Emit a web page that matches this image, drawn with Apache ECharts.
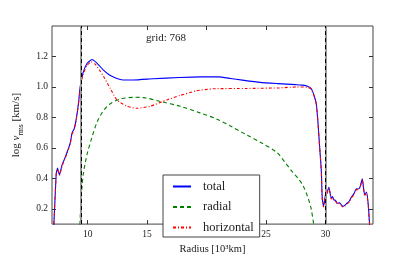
<!DOCTYPE html>
<html>
<head>
<meta charset="utf-8">
<script src="https://cdn.jsdelivr.net/npm/echarts@6/dist/echarts.min.js"></script>
<style>html,body{margin:0;padding:0;background:#fff;}#c{width:415px;height:260px;}</style>
</head>
<body>
<div id="c"></div>
<script>
// Radius [10^3 km] and log v_rms values
const radiusTotal = [7.13, 7.28, 7.36, 7.47, 7.55, 7.64, 7.84, 8.12, 8.4, 8.54, 8.68, 8.87, 9.04, 9.23, 9.37, 9.6, 9.94, 10.36, 10.8, 11.33, 11.8, 12.17, 12.6, 13.0, 13.85, 15.5, 17.7, 19.5, 21.0, 22.0, 23.0, 24.5, 26.0, 27.5, 28.1, 28.5, 28.8, 29.0, 29.23, 29.37, 29.5, 29.65, 29.73, 29.84, 29.92, 30.0, 30.1, 30.29, 30.4, 30.49, 30.6, 30.7, 30.85, 31.0, 31.2, 31.35, 31.5, 31.65, 31.8, 32.0, 32.2, 32.4, 32.6, 32.75, 32.9, 33.0, 33.1, 33.2, 33.3, 33.45, 33.6, 33.75];
const valuesTotal = [0.05, 0.31, 0.435, 0.467, 0.44, 0.425, 0.487, 0.54, 0.6, 0.634, 0.696, 0.727, 0.79, 0.894, 1.0, 1.09, 1.154, 1.18, 1.155, 1.11, 1.08, 1.065, 1.052, 1.046, 1.046, 1.054, 1.062, 1.066, 1.066, 1.056, 1.045, 1.03, 1.022, 1.015, 1.012, 1.005, 0.99, 0.955, 0.89, 0.77, 0.62, 0.456, 0.27, 0.217, 0.25, 0.29, 0.3, 0.342, 0.3, 0.27, 0.28, 0.26, 0.255, 0.237, 0.24, 0.225, 0.217, 0.225, 0.237, 0.25, 0.279, 0.3, 0.331, 0.33, 0.342, 0.37, 0.398, 0.34, 0.29, 0.31, 0.228, 0.05];

const radiusRadial = [9.33, 9.4, 9.45, 9.52, 9.62, 9.79, 9.99, 10.36, 10.8, 11.33, 12.0, 12.73, 13.85, 14.7, 16.1, 17.8, 19.44, 20.84, 22.1, 23.36, 24.6, 25.9, 26.6, 27.2, 27.7, 28.1, 28.5, 28.8, 29.1];
const valuesRadial = [0.05, 0.2, 0.27, 0.34, 0.42, 0.5, 0.57, 0.67, 0.77, 0.845, 0.895, 0.92, 0.932, 0.93, 0.905, 0.873, 0.83, 0.79, 0.74, 0.686, 0.634, 0.571, 0.505, 0.445, 0.4, 0.355, 0.28, 0.2, 0.05];

const radiusHorizontal = [7.13, 7.28, 7.36, 7.47, 7.55, 7.64, 7.84, 8.12, 8.4, 8.54, 8.68, 8.87, 9.04, 9.23, 9.37, 9.6, 9.94, 10.3, 10.63, 11.0, 11.33, 11.9, 12.45, 13.3, 14.13, 15.25, 16.65, 17.76, 19.16, 20.56, 23.36, 26.15, 27.55, 28.5, 28.8, 29.0, 29.23, 29.37, 29.5, 29.65, 29.73, 29.84, 29.92, 30.0, 30.1, 30.29, 30.4, 30.49, 30.6, 30.7, 30.85, 31.0, 31.2, 31.35, 31.5, 31.65, 31.8, 32.0, 32.2, 32.4, 32.6, 32.75, 32.9, 33.0, 33.1, 33.2, 33.3, 33.45, 33.6, 33.75];
const valuesHorizontal = [0.05, 0.31, 0.43, 0.46, 0.44, 0.42, 0.48, 0.535, 0.595, 0.63, 0.69, 0.72, 0.785, 0.89, 0.99, 1.08, 1.14, 1.165, 1.15, 1.11, 1.07, 0.99, 0.915, 0.873, 0.86, 0.873, 0.915, 0.944, 0.975, 0.988, 0.99, 0.994, 1.0, 0.998, 0.985, 0.95, 0.885, 0.765, 0.615, 0.45, 0.265, 0.212, 0.245, 0.285, 0.295, 0.337, 0.295, 0.265, 0.275, 0.255, 0.25, 0.232, 0.235, 0.22, 0.212, 0.22, 0.232, 0.245, 0.274, 0.295, 0.326, 0.325, 0.337, 0.365, 0.393, 0.335, 0.285, 0.305, 0.223, 0.05];

const boundaries = [9.45, 30.0];
const xTicks = [10, 15, 20, 25, 30];
const yTicks = [0.2, 0.4, 0.6, 0.8, 1.0, 1.2];
const gridLabel = 'grid: 768';

const zip = (xs, ys) => xs.map((x, i) => [x, ys[i]]);
const serif = 'Liberation Serif';
const chart = echarts.init(document.getElementById('c'), null, {renderer: 'canvas'});

const tickCommon = {show: true, inside: true, length: 4, lineStyle: {color: '#333', width: 1}};
const vline = (color, type, width) => ({
  silent: true, symbol: 'none', animation: false,
  label: {show: false},
  lineStyle: {color: color, type: type, width: width},
  data: boundaries.map(b => ({xAxis: b}))
});

chart.setOption({
  animation: false,
  grid: {left: 52, top: 26, right: 42, bottom: 27, show: true, borderColor: '#444', borderWidth: 1, backgroundColor: 'transparent'},
  xAxis: [
    {type: 'value', min: 7, max: 34, position: 'bottom',
     axisLine: {show: false}, splitLine: {show: false},
     axisTick: Object.assign({customValues: xTicks}, tickCommon),
     axisLabel: {customValues: xTicks, color: '#222', fontFamily: serif, fontSize: 9.5, margin: 5},
     name: 'Radius [10³km]', nameLocation: 'middle', nameGap: 15,
     nameTextStyle: {color: '#222', fontFamily: serif, fontSize: 10.5}},
    {type: 'value', min: 7, max: 34, position: 'top',
     axisLine: {show: false}, splitLine: {show: false},
     axisTick: Object.assign({customValues: xTicks}, tickCommon),
     axisLabel: {show: false}}
  ],
  yAxis: [
    {type: 'value', min: 0.1, max: 1.4, position: 'left',
     axisLine: {show: false}, splitLine: {show: false},
     axisTick: Object.assign({customValues: yTicks}, tickCommon),
     axisLabel: {customValues: yTicks, color: '#222', fontFamily: serif, fontSize: 9.5, margin: 4,
                 formatter: v => v.toFixed(1)},
     name: '{n|log }{v|v}{s|rms}{n| [km/s]}', nameLocation: 'middle', nameGap: 20, nameRotate: 90,
     nameTextStyle: {color: '#222', fontFamily: serif, fontSize: 11,
       rich: {
         n: {fontFamily: serif, fontSize: 11, color: '#222', lineHeight: 14},
         v: {fontFamily: serif, fontSize: 11, fontStyle: 'italic', color: '#222', lineHeight: 14},
         s: {fontFamily: serif, fontSize: 7.5, color: '#222', lineHeight: 14, verticalAlign: 'bottom', padding: [0, 0, -2, 0]}
       }}},
    {type: 'value', min: 0.1, max: 1.4, position: 'right',
     axisLine: {show: false}, splitLine: {show: false},
     axisTick: Object.assign({customValues: yTicks}, tickCommon),
     axisLabel: {show: false}}
  ],
  legend: {
    orient: 'vertical', left: 163, top: 175,
    backgroundColor: '#fff', borderColor: '#444', borderWidth: 1, borderRadius: 0,
    padding: [5, 6, 3, 9], itemWidth: 18, itemHeight: 10, itemGap: 7.5,
    itemStyle: {opacity: 0, borderWidth: 0},
    textStyle: {fontFamily: serif, fontSize: 12.5, color: '#222', lineHeight: 10, padding: [0, 0, 0, 7]},
    data: ['total', 'radial', 'horizontal']
  },
  graphic: [
    {type: 'text', left: 146, top: 33, silent: true,
     style: {text: gridLabel, fontFamily: serif, fontSize: 11, fill: '#222'}}
  ],
  series: [
    {name: 'boundary', type: 'line', data: [], markLine: vline('#999', 'solid', 2), z: 1},
    {name: 'boundary2', type: 'line', data: [], markLine: vline('#000', [4, 3], 1), z: 1},
    {name: 'total', type: 'line', symbol: 'none', smooth: 0.15, clip: true, z: 3,
     data: zip(radiusTotal, valuesTotal),
     lineStyle: {color: '#0000ff', width: 1.1}, itemStyle: {color: '#0000ff'}},
    {name: 'radial', type: 'line', symbol: 'none', smooth: 0.3, clip: true, z: 3,
     data: zip(radiusRadial, valuesRadial),
     lineStyle: {color: '#008000', width: 1.1, type: [4, 3]}, itemStyle: {color: '#008000'}},
    {name: 'horizontal', type: 'line', symbol: 'none', smooth: 0.15, clip: true, z: 4,
     data: zip(radiusHorizontal, valuesHorizontal),
     lineStyle: {color: '#ff0000', width: 1.1, type: [3, 2, 1, 2]}, itemStyle: {color: '#ff0000'}}
  ]
});
</script>
</body>
</html>
